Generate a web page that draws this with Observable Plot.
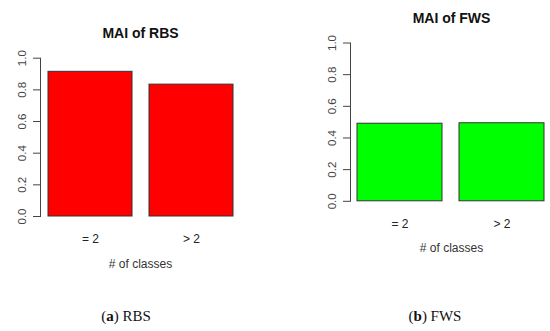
<!DOCTYPE html>
<html><head><meta charset="utf-8">
<script src="https://cdn.jsdelivr.net/npm/d3@7"></script>
<script src="https://cdn.jsdelivr.net/npm/@observablehq/plot@0.6"></script>
<style>
body{margin:0;background:#fff}
#wrap{position:relative;width:550px;height:331px;overflow:hidden;background:#fff}
.panel{position:absolute;top:0}
.cap{position:absolute;top:307px;line-height:18px;font-family:"Liberation Serif","Times New Roman",serif;font-size:15px;color:#111;transform:translateX(-50%);white-space:nowrap}
</style></head><body>
<div id="wrap"></div>
<script>
const categories = ["= 2", "> 2"];
const rbsValues = [0.914, 0.833];
const fwsValues = [0.49, 0.493];
const yTicks = [0, 0.2, 0.4, 0.6, 0.8, 1.0];
const titles = ["MAI of RBS", "MAI of FWS"];
const xLabel = "# of classes";
const captionLetters = ["a", "b"];
const captionNames = ["RBS", "FWS"];

function panel({values, fill, title, top, axisX, barRange, marginRight, titleDx}) {
  const data = categories.map((c, i) => ({cat: c, v: values[i]}));
  return Plot.plot({
    width: 275, height: 331,
    marginLeft: axisX, marginRight, marginTop: top, marginBottom: 331 - (top + 158.3),
    x: {domain: categories, range: barRange, paddingInner: 0.166, paddingOuter: 0, axis: null},
    y: {domain: [0, 1], axis: null},
    style: {fontFamily: "Arial, 'Liberation Sans', sans-serif", background: "white", overflow: "visible"},
    marks: [
      Plot.barY(data, {x: "cat", y: "v", fill, stroke: "#333", strokeWidth: 1}),
      Plot.frame({anchor: "left", stroke: "#444"}),
      Plot.axisY({ticks: yTicks, label: null, tickSize: 7, tickRotate: -90, textAnchor: "middle", lineAnchor: "bottom", tickPadding: 8, tickFormat: d => d.toFixed(1), fontSize: 11.5, color: "#444"}),
      Plot.axisX({label: null, tickSize: 0, tickPadding: 18, fontSize: 12, color: "#222"}),
      Plot.text([title], {frameAnchor: "top", dy: -30, dx: titleDx, fontWeight: "bold", fontSize: 14, fill: "#111"}),
      Plot.text([xLabel], {frameAnchor: "bottom", dy: 51, dx: titleDx, fontSize: 12, fill: "#333"})
    ]
  });
}

const wrap = document.getElementById("wrap");
const specs = [
  {values: rbsValues, fill: "#ff0000", title: titles[0], top: 57.7, axisX: 40, barRange: [47, 233.7], marginRight: 35, titleDx: 0, left: 0, cap: 126},
  {values: fwsValues, fill: "#00ff00", title: titles[1], top: 42.5, axisX: 75, barRange: [82.3, 269.7], marginRight: 0, titleDx: 1, left: 275, cap: 435}
];
specs.forEach((s, i) => {
  const div = document.createElement("div");
  div.className = "panel";
  div.style.left = s.left + "px";
  div.appendChild(panel(s));
  wrap.appendChild(div);
  const cap = document.createElement("div");
  cap.className = "cap";
  cap.style.left = s.cap + "px";
  cap.innerHTML = "(<b>" + captionLetters[i] + "</b>) " + captionNames[i];
  wrap.appendChild(cap);
});
</script>
</body></html>
